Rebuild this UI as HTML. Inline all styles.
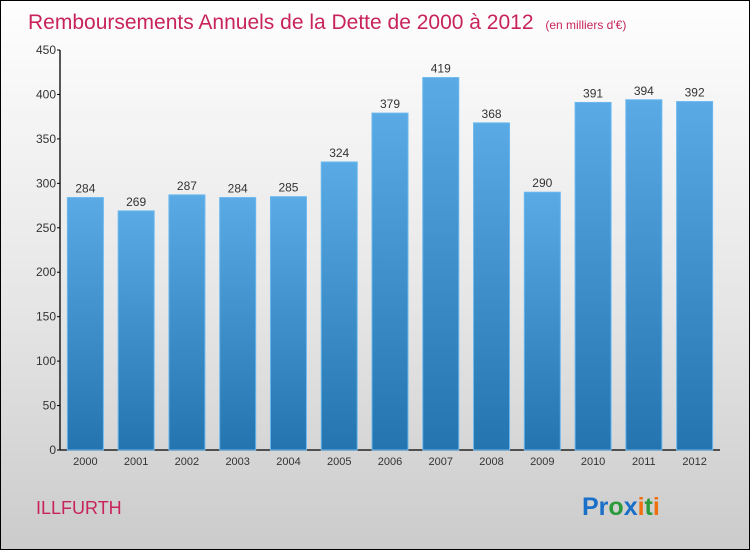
<!DOCTYPE html>
<html><head><meta charset="utf-8"><style>
body{margin:0;}
#c{width:750px;height:550px;position:relative;box-sizing:border-box;border:1px solid #000;background:linear-gradient(#fefefe,#e6e6e6 55%,#cbcbcb);font-family:"Liberation Sans",sans-serif;overflow:hidden}
</style></head><body>
<div id="c">
<svg width="750" height="550" style="position:absolute;left:-1px;top:-1px">
<defs><linearGradient id="bg" x1="0" y1="0" x2="0" y2="1"><stop offset="0" stop-color="#5aaae6"/><stop offset="1" stop-color="#2474b0"/></linearGradient></defs>
<text x="28" y="29" font-size="21" fill="#c8245a">Remboursements Annuels de la Dette de 2000 à 2012 <tspan font-size="12" dx="6">(en milliers d'€)</tspan></text>
<g id="plot"></g>
<text x="36" y="514" font-size="18" fill="#c8245a">ILLFURTH</text>
<text x="582" y="515" font-size="25" font-weight="bold"><tspan fill="#1a6fc8">Pr</tspan><tspan fill="#2a9a3a">o</tspan><tspan fill="#1a6fc8">x</tspan><tspan fill="#f07010">i</tspan><tspan fill="#2a9a3a">t</tspan><tspan fill="#f07010">i</tspan></text>
</svg>
</div>
<script>
const years=["2000","2001","2002","2003","2004","2005","2006","2007","2008","2009","2010","2011","2012"];
const values=[284,269,287,284,285,324,379,419,368,290,391,394,392];
const yTicks=[0,50,100,150,200,250,300,350,400,450];
const NS="http://www.w3.org/2000/svg";
const g=document.getElementById('plot');
const x0=60,x1=720,yb=450,yt=50,ymax=450;
const band=(x1-x0)/years.length,bw=36;
const y=v=>yb-(v/ymax)*(yb-yt);
function mk(t,a){const e=document.createElementNS(NS,t);for(const k in a)e.setAttribute(k,a[k]);g.appendChild(e);return e;}
let ax=mk('line',{x1:x0,y1:yt,x2:x0,y2:yb,stroke:'#000','stroke-width':1.3});


let bx=mk('line',{x1:x0,y1:yb,x2:x1,y2:yb,stroke:'#000','stroke-width':1.3});


yTicks.forEach(t=>{
 mk('line',{x1:x0-3,y1:y(t),x2:x0,y2:y(t),stroke:'#000'});
 const l=mk('text',{x:x0-4,y:y(t)+4,'font-size':12,'text-anchor':'end',fill:'#333'});
 l.textContent=t;
 
 
});
years.forEach((yr,i)=>{
 const cx=x0+band*(i+0.5);
 const r=mk('rect',{x:cx-bw/2,y:y(values[i]),width:bw,height:yb-y(values[i]),fill:'url(#bg)',stroke:'#6bb8ee','stroke-width':1});
 
 
 const v=mk('text',{x:cx,y:y(values[i])-5,'font-size':12,'text-anchor':'middle',fill:'#333'});
 v.textContent=values[i];
 
 
 const xl=mk('text',{x:cx,y:yb+15,'font-size':11,'text-anchor':'middle',fill:'#333'});
 xl.textContent=yr;
 
 
});
</script>
</body></html>
